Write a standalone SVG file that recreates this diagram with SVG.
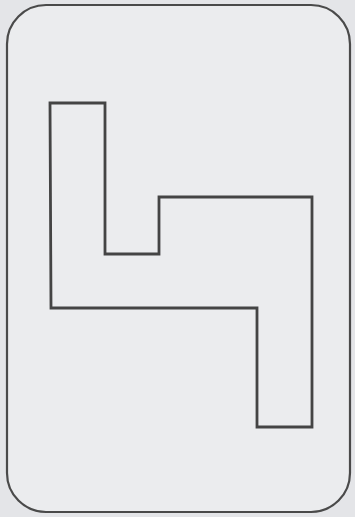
<svg xmlns="http://www.w3.org/2000/svg" width="355" height="517" viewBox="0 0 355 517">
  <style>
    .bg { fill: #e4e5e8; }
    .frame { fill: #ebecee; stroke: #4a4a4a; stroke-width: 2.2; }
    .shape { fill: none; stroke: #444444; stroke-width: 2.8; stroke-linejoin: miter; }
    .ghost { stroke: #d2d3d6; stroke-width: 1; }
  </style>
  <rect class="bg" x="0" y="0" width="355" height="517"/>
  <g id="bleed">
    <line class="ghost" x1="10" y1="60" x2="345" y2="60"/>
    <line class="ghost" x1="10" y1="152" x2="345" y2="152"/>
    <line class="ghost" x1="10" y1="275" x2="345" y2="275"/>
    <line class="ghost" x1="10" y1="300" x2="345" y2="300"/>
    <line class="ghost" x1="10" y1="345" x2="345" y2="345"/>
    <line class="ghost" x1="10" y1="372" x2="345" y2="372"/>
    <line class="ghost" x1="10" y1="488" x2="345" y2="488"/>
  </g>
  <g id="frame">
    <rect class="frame" x="7" y="5" width="343" height="507" rx="39" ry="39"/>
  </g>
  <g id="figure">
    <polygon class="shape" points="50,103 105,103 105,254 159,254 159,197 312,197 312,427 257,427 257,308 51,308"/>
  </g>
</svg>
